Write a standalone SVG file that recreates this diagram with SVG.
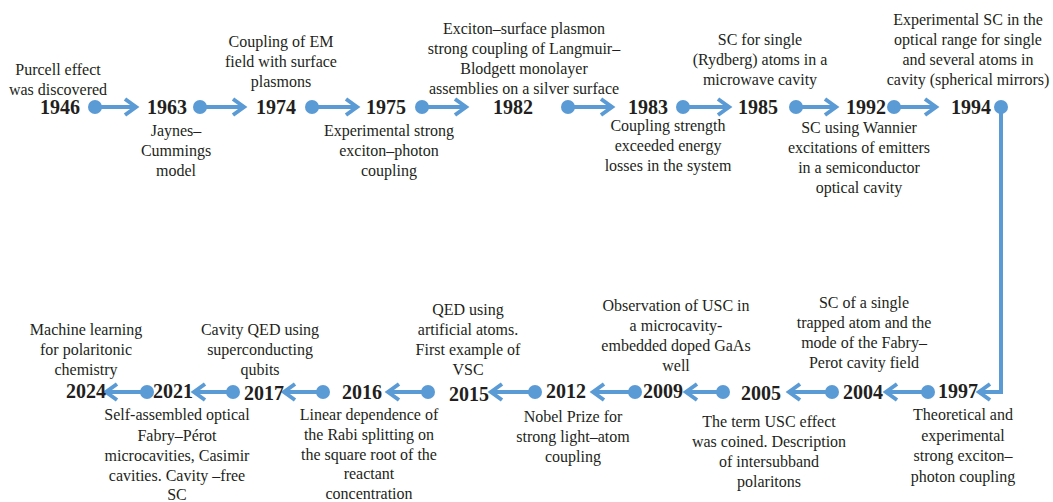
<svg xmlns="http://www.w3.org/2000/svg" width="1053" height="502" viewBox="0 0 1053 502">
<defs>
<style>
.yr{font-family:"Liberation Serif","Times New Roman",serif;font-weight:bold;font-size:20px;fill:#231f20;text-anchor:middle}
.lb{font-family:"Liberation Serif","Times New Roman",serif;font-size:16px;fill:#231f20;text-anchor:middle}
.ar{stroke:#5b9bd5;stroke-width:4;fill:none;marker-start:url(#dot);marker-end:url(#head)}
</style>
<marker id="dot" markerUnits="userSpaceOnUse" markerWidth="16" markerHeight="16" refX="8" refY="8" orient="auto" overflow="visible">
<circle cx="8" cy="8" r="7" fill="#5b9bd5"/>
</marker>
<marker id="head" markerUnits="userSpaceOnUse" markerWidth="16" markerHeight="20" refX="14" refY="10" orient="auto" overflow="visible">
<path d="M3 2 L14 10 L3 18" fill="none" stroke="#5b9bd5" stroke-width="4" stroke-linejoin="miter"/>
</marker>
</defs>
<g id="connectors">
<path class="ar" d="M95 107 H136"/>
<path class="ar" d="M200 107 H244"/>
<path class="ar" d="M312 107 H357"/>
<path class="ar" d="M422 107 H466"/>
<path class="ar" d="M568 107 H612"/>
<path class="ar" d="M683 107 H729"/>
<path class="ar" d="M796 107 H836"/>
<path class="ar" d="M894 107 H936"/>
<path class="ar" d="M1001 107 V392 H979"/>
<path class="ar" d="M928 392 H886"/>
<path class="ar" d="M832 392 H789"/>
<path class="ar" d="M723 392 H686"/>
<path class="ar" d="M635 392 H593"/>
<path class="ar" d="M535 392 H491"/>
<path class="ar" d="M428 392 H388"/>
<path class="ar" d="M323 392 H284"/>
<path class="ar" d="M233 392 H194"/>
<path class="ar" d="M147 392 H106"/>
</g>
<g id="n1946"><text class="yr" x="60" y="114">1946</text><text class="lb" x="58" y="75">Purcell effect</text><text class="lb" x="58" y="95">was discovered</text></g>
<g id="n1963"><text class="yr" x="167" y="114">1963</text><text class="lb" x="176" y="136">Jaynes–</text><text class="lb" x="176" y="156">Cummings</text><text class="lb" x="176" y="176">model</text></g>
<g id="n1974"><text class="yr" x="276" y="114">1974</text><text class="lb" x="281" y="47">Coupling of EM</text><text class="lb" x="281" y="67">field with surface</text><text class="lb" x="281" y="87">plasmons</text></g>
<g id="n1975"><text class="yr" x="386" y="114">1975</text><text class="lb" x="389" y="136">Experimental strong</text><text class="lb" x="389" y="156">exciton–photon</text><text class="lb" x="389" y="176">coupling</text></g>
<g id="n1982"><text class="yr" x="513" y="114">1982</text><text class="lb" x="524" y="34">Exciton–surface plasmon</text><text class="lb" x="524" y="54">strong coupling of Langmuir–</text><text class="lb" x="524" y="74">Blodgett monolayer</text><text class="lb" x="524" y="94">assemblies on a silver surface</text></g>
<g id="n1983"><text class="yr" x="648" y="114">1983</text><text class="lb" x="668" y="131">Coupling strength</text><text class="lb" x="668" y="151">exceeded energy</text><text class="lb" x="668" y="171">losses in the system</text></g>
<g id="n1985"><text class="yr" x="758" y="114">1985</text><text class="lb" x="760" y="45">SC for single</text><text class="lb" x="760" y="65">(Rydberg) atoms in a</text><text class="lb" x="760" y="85">microwave cavity</text></g>
<g id="n1992"><text class="yr" x="866" y="114">1992</text><text class="lb" x="859" y="133">SC using Wannier</text><text class="lb" x="859" y="153">excitations of emitters</text><text class="lb" x="859" y="173">in a semiconductor</text><text class="lb" x="859" y="193">optical cavity</text></g>
<g id="n1994"><text class="yr" x="971" y="114">1994</text><text class="lb" x="968" y="25">Experimental SC in the</text><text class="lb" x="968" y="45">optical range for single</text><text class="lb" x="968" y="65">and several atoms in</text><text class="lb" x="968" y="85">cavity (spherical mirrors)</text></g>
<g id="n1997"><text class="yr" x="958" y="398">1997</text><text class="lb" x="963" y="420">Theoretical and</text><text class="lb" x="963" y="441">experimental</text><text class="lb" x="963" y="461">strong exciton–</text><text class="lb" x="963" y="482">photon coupling</text></g>
<g id="n2004"><text class="yr" x="863" y="399">2004</text><text class="lb" x="864" y="308">SC of a single</text><text class="lb" x="864" y="328">trapped atom and the</text><text class="lb" x="864" y="348">mode of the Fabry–</text><text class="lb" x="864" y="368">Perot cavity field</text></g>
<g id="n2005"><text class="yr" x="761" y="400">2005</text><text class="lb" x="769" y="427">The term USC effect</text><text class="lb" x="769" y="447">was coined. Description</text><text class="lb" x="769" y="467">of intersubband</text><text class="lb" x="769" y="487">polaritons</text></g>
<g id="n2009"><text class="yr" x="663" y="398">2009</text><text class="lb" x="676" y="311">Observation of USC in</text><text class="lb" x="676" y="331">a microcavity-</text><text class="lb" x="676" y="351">embedded doped GaAs</text><text class="lb" x="676" y="371">well</text></g>
<g id="n2012"><text class="yr" x="566" y="398">2012</text><text class="lb" x="573" y="422">Nobel Prize for</text><text class="lb" x="573" y="442">strong light–atom</text><text class="lb" x="573" y="462">coupling</text></g>
<g id="n2015"><text class="yr" x="469" y="401">2015</text><text class="lb" x="468" y="315">QED using</text><text class="lb" x="468" y="335">artificial atoms.</text><text class="lb" x="468" y="355">First example of</text><text class="lb" x="468" y="375">VSC</text></g>
<g id="n2016"><text class="yr" x="362" y="399">2016</text><text class="lb" x="369" y="420">Linear dependence of</text><text class="lb" x="369" y="440">the Rabi splitting on</text><text class="lb" x="369" y="460">the square root of  the</text><text class="lb" x="369" y="479">reactant</text><text class="lb" x="369" y="499">concentration</text></g>
<g id="n2017"><text class="yr" x="264" y="400">2017</text><text class="lb" x="260" y="335">Cavity QED using</text><text class="lb" x="260" y="355">superconducting</text><text class="lb" x="260" y="375">qubits</text></g>
<g id="n2021"><text class="yr" x="173" y="398">2021</text><text class="lb" x="177" y="420">Self-assembled optical</text><text class="lb" x="177" y="441">Fabry–Pérot</text><text class="lb" x="177" y="461">microcavities, Casimir</text><text class="lb" x="177" y="481">cavities. Cavity –free</text><text class="lb" x="177" y="500">SC</text></g>
<g id="n2024"><text class="yr" x="86" y="398">2024</text><text class="lb" x="86" y="335">Machine learning</text><text class="lb" x="86" y="355">for polaritonic</text><text class="lb" x="86" y="375">chemistry</text></g>
</svg>
